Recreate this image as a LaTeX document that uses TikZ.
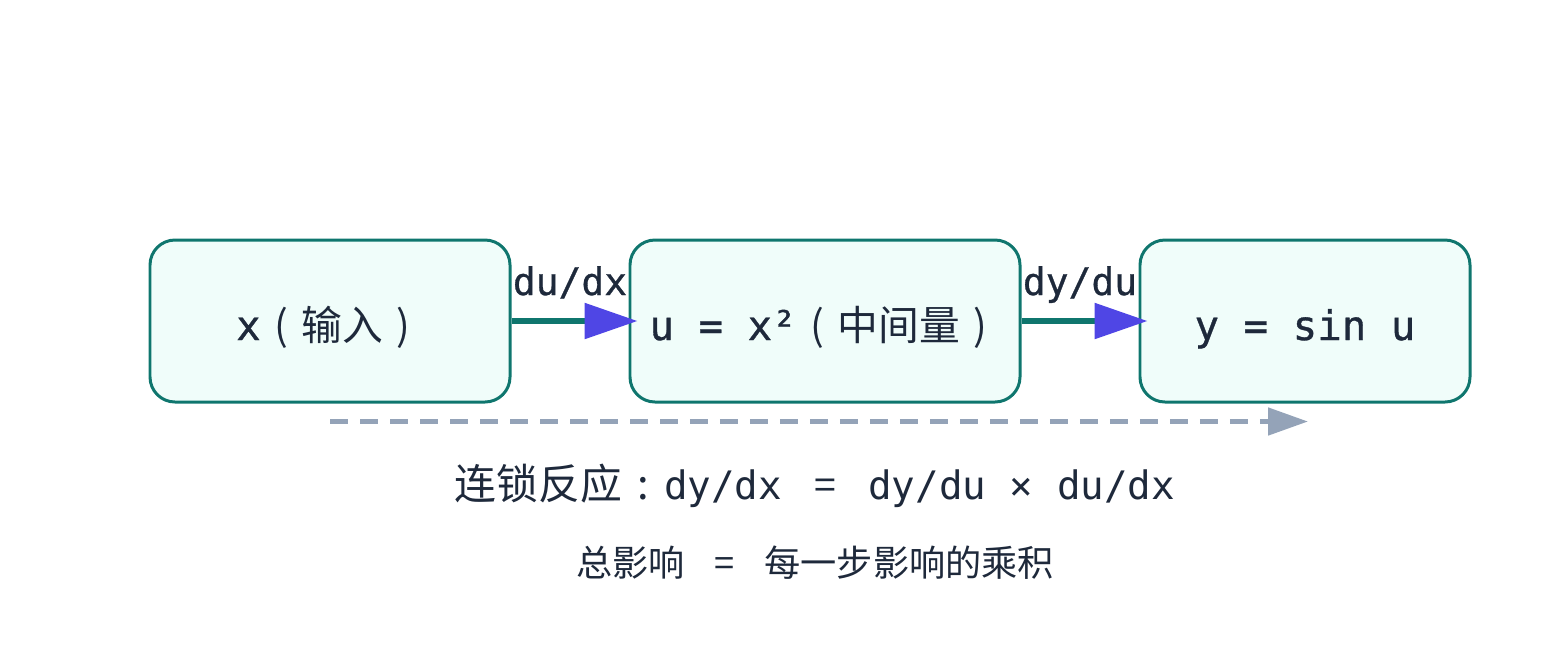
\documentclass[tikz,border=0pt]{standalone}
\usepackage{fontspec}
\setmainfont{DejaVu Sans Mono}
\newfontfamily\monomid{DejaVu Sans Mono}[FakeBold=0.8]
\newfontfamily\cjk{Noto Sans CJK SC}
\usetikzlibrary{arrows.meta,positioning}

\definecolor{boxfill}{HTML}{F0FDFA}
\definecolor{boxline}{HTML}{0F766E}
\definecolor{tipblue}{HTML}{4F46E5}
\definecolor{flowgray}{HTML}{94A3B8}
\definecolor{inkdark}{HTML}{1E293B}

% full-width punctuation, centred in its cell
\newcommand{\fulleq}{\makebox[1em]{\cjk =}}
\newcommand{\fullcolon}{\makebox[1em]{\cjk :}}
\newcommand{\openparen}{\makebox[1em]{\cjk (}}
\newcommand{\closeparen}{\makebox[1em]{\cjk )}}

\tikzset{
  stagebox/.style = {draw=boxline, fill=boxfill, line width=0.85pt, rounded corners=0.25cm,
    minimum height=1.62cm, inner sep=0pt, text height=0.38cm, text depth=0cm, text=inkdark,
    font=\fontsize{11.6pt}{14pt}\monomid},
  linkarrow/.style = {draw=boxline, line width=1.6pt, shorten >=-0.09cm,
    -{Triangle[length=0.53cm, width=0.35cm, color=tipblue]}},
  linklabel/.style = {anchor=base, yshift=0.26cm, inner sep=0pt, text=inkdark,
    font=\fontsize{10.8pt}{13pt}\monomid},
  flowline/.style = {draw=flowgray, line width=1.4pt, dash pattern=on 0.18cm off 0.12cm,
    -{Triangle[length=0.4cm, width=0.27cm]}},
  chaintext/.style = {inner sep=0pt, text=inkdark, font=\fontsize{11.15pt}{14pt}\selectfont},
  sumtext/.style = {inner sep=0pt, text=inkdark, font=\fontsize{10.3pt}{12pt}\selectfont},
}

\begin{document}
\begin{tikzpicture}
  \useasboundingbox (0,0) rectangle (15.6,-6.6);

  % the three stages
  \node[stagebox, minimum width=3.6cm] (input) at (3.3,-3.21) {x\openparen{\cjk 输入}\closeparen};
  \node[stagebox, minimum width=3.9cm, right=1.17cm of input] (inner)
    {u = x²\openparen{\cjk 中间量}\closeparen};
  \node[stagebox, minimum width=3.3cm, right=1.17cm of inner] (outer) {y = sin u};

  \draw[linkarrow] (input) -- node[linklabel] {du/dx} (inner);
  \draw[linkarrow] (inner) -- node[linklabel] {dy/du} (outer);

  % overall flow
  \draw[flowline] ([yshift=-0.18cm]input.south) -- ([xshift=0.03cm, yshift=-0.18cm]outer.south);

  \node[chaintext] (chain) at (8.15,-4.86)
    {{\fontsize{11.9pt}{14pt}\cjk 连锁反应\fullcolon}dy/dx \fulleq{} dy/du × du/dx};
  \node[sumtext] (total) at (8.15,-5.63) {{\cjk 总影响} \fulleq{} {\cjk 每一步影响的乘积}};
\end{tikzpicture}
\end{document}
